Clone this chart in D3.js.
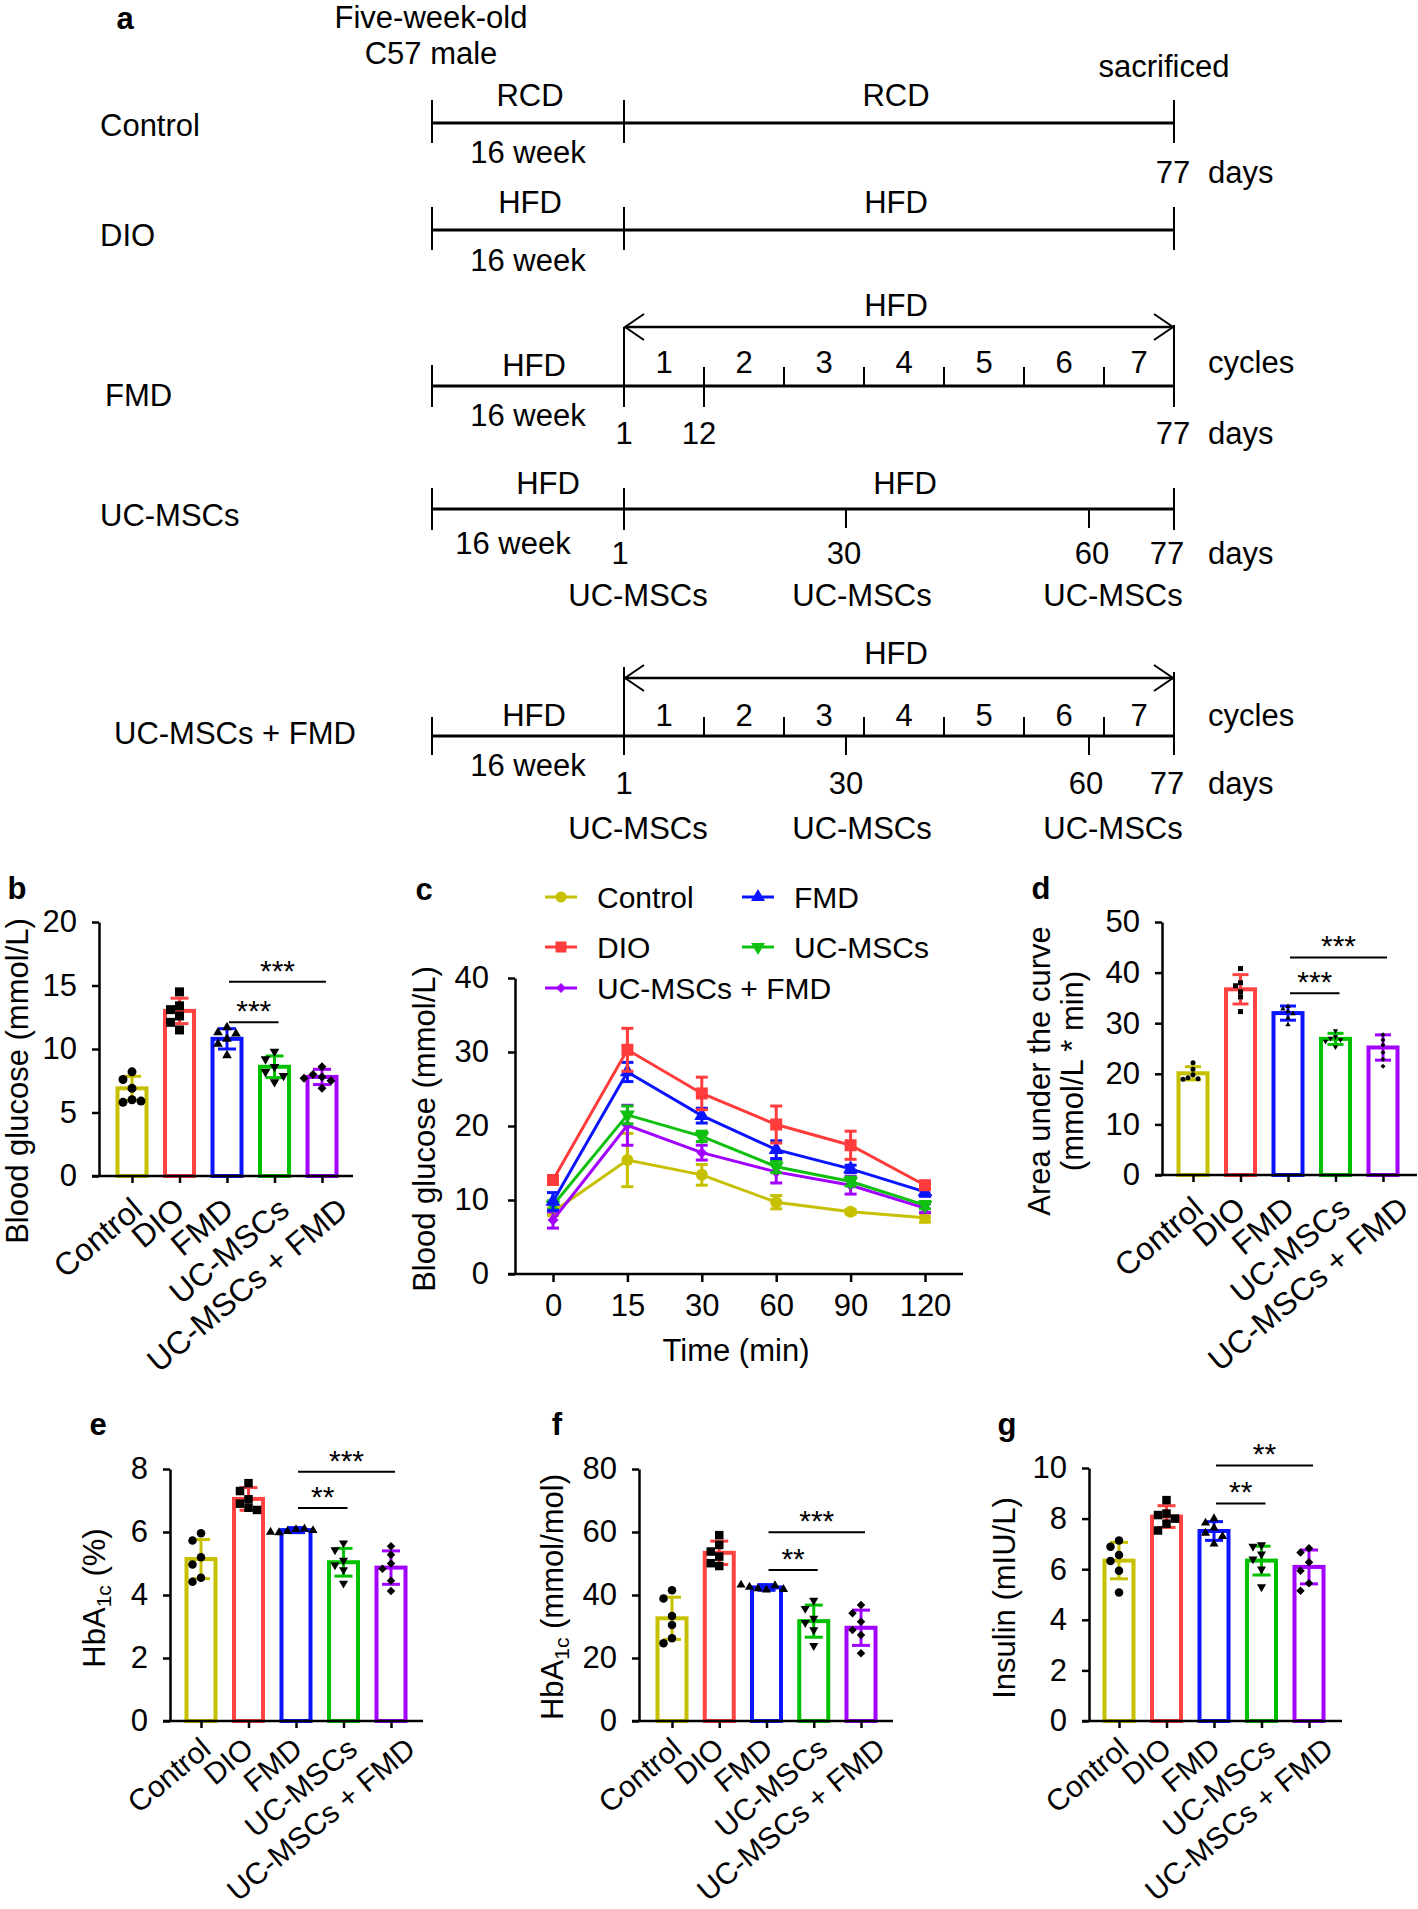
<!DOCTYPE html>
<html><head><meta charset="utf-8">
<script src="https://cdn.jsdelivr.net/npm/d3@7/dist/d3.min.js"></script>
<style>
html,body{margin:0;padding:0;background:#fff;}
svg{display:block;}
</style></head>
<body>
<svg id="fig" width="1418" height="1909"></svg>
<script>
// ================= DATA =================
const groups = ["Control", "DIO", "FMD", "UC-MSCs", "UC-MSCs + FMD"];
const groupColors = ["#c6c000", "#ff4242", "#0a14ff", "#00c000", "#a200ff"];

// ---- panel a (study design) ----
const preDiet = ["RCD", "HFD", "HFD", "HFD", "HFD"];
const postDiet = ["RCD", "HFD", "HFD", "HFD", "HFD"];
const prePeriod = "16 week";
const cycleNumbers = [1, 2, 3, 4, 5, 6, 7];
const cycleBoundaries = [1, 2, 3, 4, 5, 6];
const fmdDayMarks = [1, 12, 77];
const mscDays = [1, 30, 60];
const endDay = 77;

// ---- panel b: blood glucose ----
const bgMeans = [6.9, 13.0, 10.8, 8.6, 7.8];
const bgSD = [0.95, 1.0, 0.8, 0.85, 0.6];
const bgPoints = [
  [8.2, 7.6, 6.9, 6.0, 5.8, 5.9],
  [14.5, 13.4, 13.1, 12.6, 12.1, 11.5],
  [11.7, 11.3, 11.2, 10.8, 10.4, 9.5],
  [9.8, 9.2, 8.6, 8.2, 7.9, 7.4],
  [8.6, 8.0, 7.8, 7.5, 6.9, 7.7]
];
const bgSig = [{from: 2, to: 4, level: 15.3, label: "***"}, {from: 2, to: 3, level: 12.1, label: "***"}];

// ---- panel c: GTT ----
const gttTimes = ["0", "15", "30", "60", "90", "120"];
const gttMeans = [
  [8.4, 15.4, 13.4, 9.7, 8.4, 7.6],
  [12.7, 30.3, 24.4, 20.2, 17.4, 12.0],
  [9.8, 27.3, 21.4, 16.8, 14.2, 11.1],
  [9.3, 21.5, 18.6, 14.5, 12.5, 9.3],
  [7.3, 20.1, 16.4, 13.8, 12.0, 8.9]
];
const gttErr = [
  [0.5, 3.6, 1.4, 0.9, 0.3, 0.6],
  [0.4, 2.9, 2.2, 2.5, 1.9, 0.5],
  [1.2, 1.3, 1.0, 1.2, 0.5, 0.6],
  [0.6, 1.2, 0.7, 0.8, 0.6, 0.5],
  [1.1, 2.7, 1.0, 1.5, 1.2, 0.6]
];

// ---- panel d: AUC ----
const aucMeans = [20.1, 36.7, 32.0, 26.9, 25.2];
const aucSD = [1.3, 2.9, 1.4, 1.1, 2.5];
const aucPoints = [
  [22.2, 20.9, 19.8, 19.2, 19.0, 18.9],
  [40.8, 38.0, 37.4, 36.2, 35.2, 32.3],
  [33.3, 32.8, 32.3, 31.9, 31.0, 29.7],
  [28.5, 27.3, 27.0, 26.7, 26.4, 25.3],
  [27.7, 26.7, 25.7, 24.2, 22.9, 21.5]
];
const aucSig = [{from: 2, to: 4, level: 43.0, label: "***"}, {from: 2, to: 3, level: 35.9, label: "***"}];

// ---- panel e: HbA1c % ----
const hbaPctMeans = [5.14, 7.05, 6.06, 5.04, 4.87];
const hbaPctSD = [0.62, 0.36, 0.08, 0.44, 0.53];
const hbaPctPoints = [
  [5.96, 5.73, 5.2, 4.97, 4.55, 4.42],
  [7.55, 7.3, 7.04, 6.9, 6.77, 6.7],
  [6.08, 6.02, 6.1, 5.98, 6.05, 6.0],
  [5.65, 5.43, 5.1, 4.95, 4.8, 4.37],
  [5.55, 5.28, 5.0, 4.83, 4.45, 4.13]
];
const hbaPctSig = [{from: 2, to: 4, level: 7.91, label: "***"}, {from: 2, to: 3, level: 6.76, label: "**"}];

// ---- panel f: HbA1c mmol/mol ----
const hbaMolMeans = [32.6, 53.4, 42.4, 31.7, 29.6];
const hbaMolSD = [6.7, 3.7, 0.9, 5.1, 5.6];
const hbaMolPoints = [
  [41.5, 38.9, 33.3, 30.5, 26.3, 24.7],
  [59.0, 55.9, 53.8, 52.2, 50.1, 49.2],
  [41.6, 42.0, 43.0, 42.5, 41.8, 43.2],
  [38.3, 35.7, 32.6, 31.2, 28.9, 23.9],
  [36.8, 34.2, 31.5, 28.9, 27.3, 21.5]
];
const hbaMolSig = [{from: 2, to: 4, level: 59.9, label: "***"}, {from: 2, to: 3, level: 47.9, label: "**"}];

// ---- panel g: insulin ----
const insMeans = [6.34, 8.08, 7.51, 6.34, 6.09];
const insSD = [0.72, 0.43, 0.37, 0.57, 0.67];
const insPoints = [
  [7.13, 6.89, 6.56, 6.32, 5.94, 5.08],
  [8.73, 8.2, 8.14, 8.0, 7.8, 7.53],
  [8.0, 7.83, 7.63, 7.43, 7.3, 7.0],
  [6.96, 6.9, 6.6, 6.4, 6.0, 5.3],
  [6.83, 6.66, 6.27, 5.94, 5.44, 5.15]
];
const insSig = [{from: 2, to: 4, level: 10.1, label: "**"}, {from: 2, to: 3, level: 8.6, label: "**"}];

// ================= DRAWING =================
const FONT = "'Liberation Sans', Arial, Helvetica, sans-serif";
const svg = d3.select("#fig").attr("font-family", FONT);
svg.append("rect").attr("width", 1418).attr("height", 1909).attr("fill", "#fff");

function T(g, x, y, s, o = {}) {
  const t = g.append("text").attr("x", x).attr("y", y)
    .attr("text-anchor", o.anchor || "middle")
    .attr("font-size", o.size || 31).attr("fill", "#000")
    .attr("dy", o.dy !== undefined ? o.dy : "0.35em");
  if (o.weight) t.attr("font-weight", o.weight);
  if (o.transform) t.attr("transform", o.transform);
  t.text(s);
  return t;
}
function L(g, x1, y1, x2, y2, w, c) {
  g.append("line").attr("x1", x1).attr("y1", y1).attr("x2", x2).attr("y2", y2)
    .attr("stroke", c || "#000").attr("stroke-width", w || 2).attr("stroke-linecap", "butt");
}
function symPath(i, s) {
  const types = [d3.symbolCircle, d3.symbolSquare, d3.symbolTriangle, d3.symbolTriangle, d3.symbolSquare];
  const areas = [Math.PI * (s / 2) * (s / 2), s * s, s * s * 0.5, s * s * 0.5, s * s * 0.5];
  return d3.symbol().type(types[i]).size(areas[i])();
}
const symRot = [0, 0, 0, 180, 45];

// ---------- Panel a ----------
(function panelA() {
  const g = svg.append("g");
  T(g, 125, 18, "a", {weight: "bold"});
  T(g, 431, 17, "Five-week-old");
  T(g, 431, 53, "C57 male");
  T(g, 1164, 66, "sacrificed");

  const x0 = 432;
  const dayX = d3.scaleLinear().domain([1, 12, 30, 60, 77]).range([624, 704, 846, 1089, 1174]);
  const cycX = d3.scaleLinear().domain([0, 6]).range([624, 1104]);
  const xs = dayX(1), xe = dayX(endDay);
  const rowY = [123, 230, 386, 509, 736];
  const rowLabel = [[100, 125], [100, 235], [105, 395], [100, 515], [114, 733]];

  function arrow(y) {
    L(g, xs + 1, y, xe - 1, y, 2.5);
    g.append("path").attr("d", `M${xs + 20},${y - 13}L${xs + 1},${y}L${xs + 20},${y + 13}`)
      .attr("fill", "none").attr("stroke", "#000").attr("stroke-width", 2);
    g.append("path").attr("d", `M${xe - 20},${y - 13}L${xe - 1},${y}L${xe - 20},${y + 13}`)
      .attr("fill", "none").attr("stroke", "#000").attr("stroke-width", 2);
  }
  function cycleNums(y) {
    cycleNumbers.forEach(k => {
      const cx = k < 7 ? (cycX(k - 1) + cycX(k)) / 2 : (cycX(6) + xe) / 2;
      T(g, cx, y, String(k));
    });
    T(g, 1208, y, "cycles", {anchor: "start"});
  }

  groups.forEach((grp, i) => {
    const y = rowY[i];
    T(g, rowLabel[i][0], rowLabel[i][1], grp, {anchor: "start"});
    L(g, x0, y, xe, y, 3);
    if (i <= 1) {
      L(g, x0, y - 23, x0, y + 20, 2);
      L(g, xs, y - 23, xs, y + 20, 2);
      L(g, xe, y - 23, xe, y + 20, 2);
      T(g, 530, y - 28, preDiet[i]);
      T(g, 896, y - 28, postDiet[i]);
      T(g, 528, y + 29 + (i === 1 ? 1 : 0), prePeriod);
      if (i === 0) {
        T(g, xe - 1, y + 49, String(endDay));
        T(g, 1208, y + 49, "days", {anchor: "start"});
      }
    } else if (i === 2) {
      const ay = 327;
      arrow(ay);
      T(g, 896, 305, postDiet[i]);
      L(g, x0, y - 21, x0, y + 21, 2);
      L(g, xs, ay, xs, y + 21, 2);
      L(g, xe, ay - 2, xe, y + 21, 2);
      cycleBoundaries.forEach(k => L(g, cycX(k), y - 19, cycX(k), y, 2));
      L(g, dayX(12), y, dayX(12), y + 21, 2);
      cycleNums(y - 24);
      T(g, 534, y - 21, preDiet[i]);
      T(g, 528, y + 29, prePeriod);
      fmdDayMarks.forEach(d => T(g, dayX(d) + (d === 12 ? -5 : d === 77 ? -1 : 0), y + 47, String(d)));
      T(g, 1208, y + 47, "days", {anchor: "start"});
    } else if (i === 3) {
      L(g, x0, y - 21, x0, y + 21, 2);
      L(g, xs, y - 21, xs, y + 21, 2);
      L(g, xe, y - 21, xe, y + 21, 2);
      mscDays.filter(d => d > 1).forEach(d => L(g, dayX(d), y, dayX(d), y + 19, 2));
      T(g, 548, y - 26, preDiet[i]);
      T(g, 905, y - 26, postDiet[i]);
      T(g, 513, y + 34, prePeriod);
      mscDays.forEach(d => T(g, dayX(d) + (d === 1 ? -4 : d === 60 ? 3 : -2), y + 44, String(d)));
      T(g, xe - 7, y + 44, String(endDay));
      T(g, 1208, y + 44, "days", {anchor: "start"});
      mscDays.forEach(d => T(g, dayX(d) + 16 + (d === 60 ? 8 : 0) - (d === 1 ? 2 : 0), y + 86, "UC-MSCs"));
    } else {
      const ay = 678;
      arrow(ay);
      T(g, 896, 653, postDiet[i]);
      L(g, x0, y - 19, x0, y + 19, 2);
      L(g, xs, 667, xs, y + 19, 2);
      L(g, xe, 672, xe, y + 19, 2);
      cycleBoundaries.forEach(k => L(g, cycX(k), y - 19, cycX(k), y, 2));
      mscDays.filter(d => d > 1).forEach(d => L(g, dayX(d), y, dayX(d), y + 19, 2));
      cycleNums(y - 21);
      T(g, 534, y - 21, preDiet[i]);
      T(g, 528, y + 29, prePeriod);
      mscDays.forEach(d => T(g, dayX(d) + (d === 60 ? -3 : 0), y + 47, String(d)));
      T(g, xe - 7, y + 47, String(endDay));
      T(g, 1208, y + 47, "days", {anchor: "start"});
      mscDays.forEach(d => T(g, dayX(d) + 16 + (d === 60 ? 8 : 0) - (d === 1 ? 2 : 0), y + 92, "UC-MSCs"));
    }
  });
})();

// ---------- generic bar panel ----------
function swarm(vals, yScale, d) {
  const placed = [];
  return vals.map(v => {
    const py = yScale(v);
    for (const k of [0, -1, 1, -2, 2, -3, 3]) {
      const px = k * d;
      if (placed.every(p => Math.hypot(p.x - px, p.y - py) >= d)) {
        placed.push({x: px, y: py});
        return {v, px};
      }
    }
    placed.push({x: 0, y: py});
    return {v, px: 0};
  });
}

function barPanel(c) {
  const g = svg.append("g");
  const y = d3.scaleLinear().domain([0, c.max]).range([c.axisY, c.topY]);
  const x = d3.scalePoint().domain(groups).range([c.c0, c.c1]);
  const bw = 29;

  groups.forEach((grp, i) => {
    const cx = x(grp), col = groupColors[i], m = c.means[i];
    g.append("rect").attr("x", cx - bw / 2).attr("y", y(m))
      .attr("width", bw).attr("height", c.axisY - y(m))
      .attr("fill", "#fff").attr("stroke", col).attr("stroke-width", 4);
  });
  groups.forEach((grp, i) => {
    const cx = x(grp), col = groupColors[i], m = c.means[i], s = c.sd[i];
    const hw = c.capHalf;
    L(g, cx, y(m + s), cx, y(m - s), 3, col);
    L(g, cx - hw, y(m + s), cx + hw, y(m + s), 3, col);
    L(g, cx - hw, y(m - s), cx + hw, y(m - s), 3, col);
  });
  groups.forEach((grp, i) => {
    const cx = x(grp);
    swarm(c.points[i], y, c.dot).forEach(p => {
      g.append("path").attr("d", symPath(i, c.dot))
        .attr("transform", `translate(${cx + p.px},${y(p.v)}) rotate(${symRot[i]})`)
        .attr("fill", "#000");
    });
  });

  // axes
  const ya = g.append("g").attr("transform", `translate(${c.yAxisX},0)`)
    .call(d3.axisLeft(y).tickValues(d3.range(0, c.max + 1e-9, c.step)).tickSize(7).tickSizeOuter(0).tickPadding(15));
  ya.attr("font-family", null).attr("font-size", 31);
  ya.selectAll("path,line").attr("stroke", "#000").attr("stroke-width", 2.5);
  ya.selectAll("text").attr("fill", "#000");

  const xa = g.append("g").attr("transform", `translate(0,${c.axisY})`)
    .call(d3.axisBottom(x).tickSize(7).tickSizeOuter(0).tickFormat(""));
  xa.select(".domain").remove();
  xa.selectAll("line").attr("stroke", "#000").attr("stroke-width", 2.5);
  L(g, c.yAxisX - 7, c.axisY, c.right, c.axisY, 2.5);

  // rotated category labels: end of text near tick, longer labels sit slightly further right
  groups.forEach(grp => {
    const t = T(g, 0, 0, grp, {anchor: "end", dy: 0, size: c.labSize});
    const len = t.node().getComputedTextLength();
    const ax = x(grp) + 12 + (len - 100) * 0.107, ay = c.axisY + c.labDy;
    t.attr("x", ax).attr("y", ay).attr("transform", `rotate(-40 ${ax} ${ay})`);
  });

  // significance
  c.sig.forEach(s => {
    const xa1 = x(groups[s.from]) + 2, xb1 = x(groups[s.to]) + 4;
    L(g, xa1, y(s.level), xb1, y(s.level), 2);
    T(g, (xa1 + xb1) / 2, y(s.level) - 1, s.label, {dy: 0, size: 30});
  });

  // panel letter
  T(g, c.letterX, c.letterY, c.letter, {weight: "bold", dy: 0});

  // y title
  c.titles.forEach((tt, k) => {
    const tx = c.titleX[k], ty = c.titleY;
    const t = g.append("text").attr("x", tx).attr("y", ty).attr("text-anchor", "middle")
      .attr("font-size", 31).attr("fill", "#000").attr("transform", `rotate(-90 ${tx} ${ty})`);
    if (Array.isArray(tt)) {
      tt.forEach(part => {
        const sp = t.append("tspan").text(part.t);
        if (part.sub) sp.attr("font-size", 21).attr("dy", 6);
        if (part.after) sp.attr("dy", -6);
      });
    } else t.text(tt);
  });
}

barPanel({letter: "b", letterX: 17, letterY: 899, yAxisX: 99, axisY: 1176, topY: 922, max: 20, step: 5,
  c0: 132, c1: 322, right: 353, means: bgMeans, sd: bgSD, points: bgPoints, sig: bgSig,
  dot: 9, capHalf: 9, labSize: 32, labDy: 37, titles: ["Blood glucose (mmol/L)"], titleX: [28], titleY: 1081});

barPanel({letter: "d", letterX: 1041, letterY: 899, yAxisX: 1162, axisY: 1175, topY: 922, max: 50, step: 10,
  c0: 1193, c1: 1383, right: 1417, means: aucMeans, sd: aucSD, points: aucPoints, sig: aucSig,
  dot: 5, capHalf: 8, labSize: 32, labDy: 37, titles: ["Area under the curve", "(mmol/L * min)"], titleX: [1050, 1083], titleY: 1071});

barPanel({letter: "e", letterX: 98, letterY: 1435, yAxisX: 170, axisY: 1721, topY: 1469, max: 8, step: 2,
  c0: 201, c1: 391, right: 423, means: hbaPctMeans, sd: hbaPctSD, points: hbaPctPoints, sig: hbaPctSig,
  dot: 8.5, capHalf: 9, labSize: 30, labDy: 31, titles: [[{t: "HbA"}, {t: "1c", sub: true}, {t: " (%)", after: true}]], titleX: [105], titleY: 1598});

barPanel({letter: "f", letterX: 557, letterY: 1435, yAxisX: 639, axisY: 1721, topY: 1469, max: 80, step: 20,
  c0: 672, c1: 861, right: 893, means: hbaMolMeans, sd: hbaMolSD, points: hbaMolPoints, sig: hbaMolSig,
  dot: 8.5, capHalf: 9, labSize: 30, labDy: 31, titles: [[{t: "HbA"}, {t: "1c", sub: true}, {t: " (mmol/mol)", after: true}]], titleX: [563], titleY: 1597});

barPanel({letter: "g", letterX: 1007, letterY: 1435, yAxisX: 1089, axisY: 1721, topY: 1468, max: 10, step: 2,
  c0: 1119, c1: 1309, right: 1342, means: insMeans, sd: insSD, points: insPoints, sig: insSig,
  dot: 8.5, capHalf: 9, labSize: 30, labDy: 31, titles: ["Insulin (mIU/L)"], titleX: [1015], titleY: 1598});

// ---------- Panel c (line chart) ----------
(function panelC() {
  const g = svg.append("g");
  const x = d3.scalePoint().domain(gttTimes).range([553, 925]);
  const y = d3.scaleLinear().domain([0, 40]).range([1274, 978]);
  const axisX = 515;
  const lineCols = ["#c6c000", "#ff3b3b", "#0a14ff", "#10c010", "#a200ff"];
  const msize = [12, 12, 14, 14, 11];

  const drawOrder = [0, 4, 3, 2, 1];
  drawOrder.forEach(i => {
    const col = lineCols[i];
    const pts = gttTimes.map((t, j) => ({t, v: gttMeans[i][j], e: gttErr[i][j]}));
    g.append("path").datum(pts)
      .attr("d", d3.line().x(d => x(d.t)).y(d => y(d.v)))
      .attr("fill", "none").attr("stroke", col).attr("stroke-width", 3);
    pts.forEach(p => {
      const cx = x(p.t);
      L(g, cx, y(p.v + p.e), cx, y(p.v - p.e), 3, col);
      L(g, cx - 6, y(p.v + p.e), cx + 6, y(p.v + p.e), 3, col);
      L(g, cx - 6, y(p.v - p.e), cx + 6, y(p.v - p.e), 3, col);
    });
    pts.forEach(p => {
      g.append("path").attr("d", symPath(i, msize[i]))
        .attr("transform", `translate(${x(p.t)},${y(p.v)}) rotate(${symRot[i]})`)
        .attr("fill", col);
    });
  });

  const ya = g.append("g").attr("transform", `translate(${axisX},0)`)
    .call(d3.axisLeft(y).tickValues([0, 10, 20, 30, 40]).tickSize(7).tickSizeOuter(0).tickPadding(19));
  ya.attr("font-family", null).attr("font-size", 31);
  ya.selectAll("path,line").attr("stroke", "#000").attr("stroke-width", 2.5);
  ya.selectAll("text").attr("fill", "#000");

  const xa = g.append("g").attr("transform", "translate(0,1274)")
    .call(d3.axisBottom(x).tickSize(8).tickSizeOuter(0).tickPadding(12));
  xa.select(".domain").remove();
  xa.attr("font-family", null).attr("font-size", 31);
  xa.selectAll("line").attr("stroke", "#000").attr("stroke-width", 2.5);
  xa.selectAll("text").attr("fill", "#000");
  L(g, axisX - 7, 1274, 963, 1274, 2.5);

  T(g, 736, 1350, "Time (min)");
  T(g, 435, 1129, "Blood glucose (mmol/L)", {dy: 0, transform: "rotate(-90 435 1129)"});
  T(g, 424, 900, "c", {weight: "bold", dy: 0});

  // legend
  const slots = [[561, 897], [561, 947], [758, 897], [758, 947], [561, 988]];
  groups.forEach((grp, i) => {
    const [mx, my] = slots[i];
    L(g, mx - 16, my, mx + 16, my, 3, lineCols[i]);
    g.append("path").attr("d", symPath(i, msize[i] - 1))
      .attr("transform", `translate(${mx},${my}) rotate(${symRot[i]})`).attr("fill", lineCols[i]);
    T(g, mx + 36, my, grp, {anchor: "start", size: 30});
  });
})();
</script>
</body></html>
